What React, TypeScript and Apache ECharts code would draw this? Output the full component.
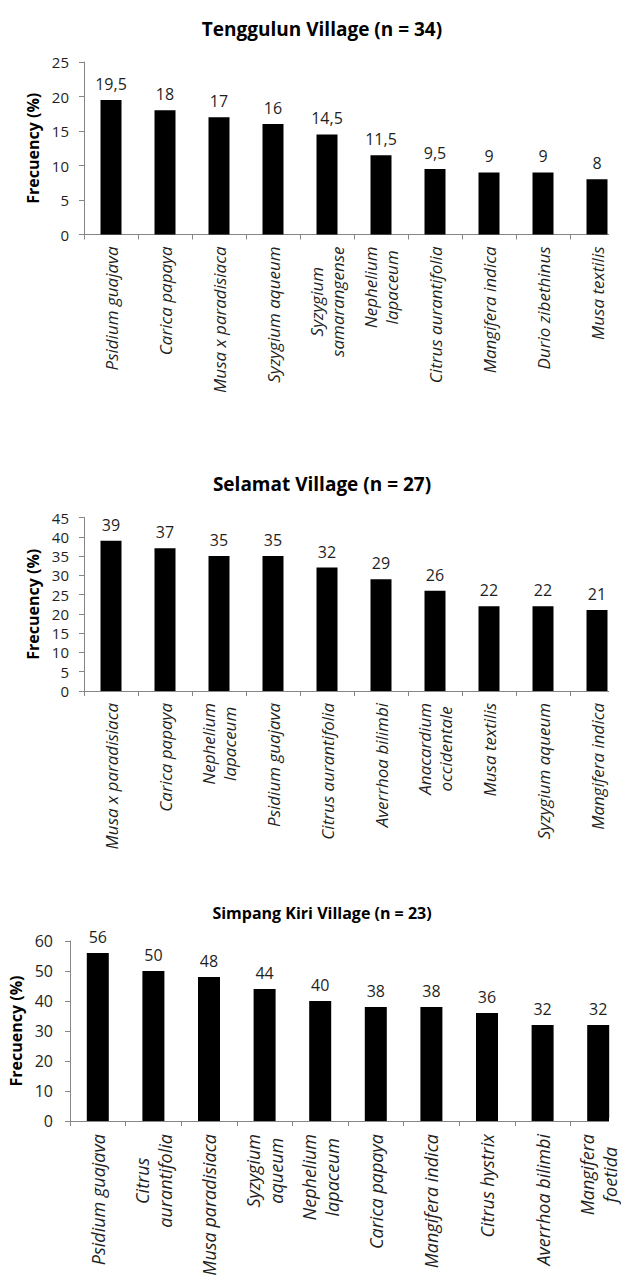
import React, { useEffect, useRef } from "react";
import * as echarts from "echarts";

const titles = ["Tenggulun Village (n = 34)", "Selamat Village (n = 27)", "Simpang Kiri Village (n = 23)"];

const cats1 = ["Psidium guajava", "Carica papaya", "Musa x paradisiaca", "Syzygium aqueum", "Syzygium\nsamarangense", "Nephelium\nlapaceum", "Citrus aurantifolia", "Mangifera indica", "Durio zibethinus", "Musa textilis"];
const vals1 = [19.5, 18, 17, 16, 14.5, 11.5, 9.5, 9, 9, 8];

const cats2 = ["Musa x paradisiaca", "Carica papaya", "Nephelium\nlapaceum", "Psidium guajava", "Citrus aurantifolia", "Averrhoa bilimbi", "Anacardium\noccidentale", "Musa textilis", "Syzygium aqueum", "Mangifera indica"];
const vals2 = [39, 37, 35, 35, 32, 29, 26, 22, 22, 21];

const cats3 = ["Psidium guajava", "Citrus\naurantifolia", "Musa paradisiaca", "Syzygium\naqueum", "Nephelium\nlapaceum", "Carica papaya", "Mangifera indica", "Citrus hystrix", "Averrhoa bilimbi", "Mangifera\nfoetida"];
const vals3 = [56, 50, 48, 44, 40, 38, 38, 36, 32, 32];

const yMax = [25, 45, 60];
const yStep = [5, 5, 10];
const yName = "Frecuency (%)";

const FONT = "'Open Sans', 'DejaVu Sans', sans-serif";
const AXIS_COLOR = "#868686";
const TEXT_COLOR = "#1f1f1f";

export default function App() {
  const ref = useRef<HTMLDivElement>(null);
  useEffect(() => {
    if (!ref.current) return;
    const chart = echarts.init(ref.current, undefined, { renderer: "svg" });
    const grids = [
      { left: 84, top: 62, width: 540, height: 172.5 },
      { left: 84, top: 517.5, width: 540, height: 173.5 },
      { left: 70, top: 941, width: 556, height: 180 },
    ];
    const cats = [cats1, cats2, cats3];
    const vals = [vals1, vals2, vals3];
    const xFont = [17, 17, 18];
    const xLine = [21, 21, 23];
    const xMargin = [12, 12, 13];
    const yFont = [15, 15, 16];
    const titleY = [29, 484, 913];
    const titleSize = [19, 19, 16];

    const titleTexts = titles.map((t, i) => ({
      type: "text",
      x: 322,
      y: titleY[i],
      style: {
        text: t,
        textAlign: "center",
        textVerticalAlign: "middle",
        font: `bold ${titleSize[i]}px ${FONT}`,
        fill: "#000000",
      },
    }));
    // the reference figure is cropped just right of the last bar
    const crops = grids.map((g) => ({
      type: "rect",
      z: 100,
      shape: { x: 609, y: g.top + g.height - 3, width: 20, height: 12 },
      style: { fill: "#ffffff" },
    }));

    const option: any = {
      animation: false,
      backgroundColor: "#ffffff",
      grid: grids.map((g) => ({ ...g, containLabel: false, outerBoundsMode: "none" })),
      graphic: [...titleTexts, ...crops],
      xAxis: cats.map((c, i) => ({
        type: "category",
        gridIndex: i,
        data: c,
        axisLine: { show: true, lineStyle: { color: AXIS_COLOR, width: 1 } },
        axisTick: { show: true, length: 5, lineStyle: { color: AXIS_COLOR } },
        splitLine: { show: false },
        axisLabel: {
          interval: 0,
          rotate: 90,
          margin: xMargin[i],
          hideOverlap: false,
          fontFamily: FONT,
          fontStyle: "italic",
          fontSize: xFont[i],
          color: TEXT_COLOR,
          formatter: (v: string) => v.split("\n").map((l) => `{c|${l}}`).join("\n"),
          rich: {
            c: {
              align: "center",
              fontFamily: FONT,
              fontStyle: "italic",
              fontSize: xFont[i],
              lineHeight: xLine[i],
              color: TEXT_COLOR,
            },
          },
        },
      })),
      yAxis: cats.map((_, i) => ({
        type: "value",
        gridIndex: i,
        min: 0,
        max: yMax[i],
        interval: yStep[i],
        name: yName,
        nameLocation: "middle",
        nameRotate: 90,
        nameGap: i === 2 ? 42 : 41,
        nameTextStyle: { fontFamily: FONT, fontWeight: "bold", fontSize: 16, color: "#000000" },
        axisLine: { show: true, lineStyle: { color: AXIS_COLOR, width: 1 } },
        axisTick: { show: true, length: 5, lineStyle: { color: AXIS_COLOR } },
        splitLine: { show: false },
        axisLabel: {
          margin: i === 2 ? 17 : 15,
          fontFamily: FONT,
          fontSize: yFont[i],
          color: TEXT_COLOR,
        },
      })),
      series: vals.map((v, i) => ({
        type: "bar",
        xAxisIndex: i,
        yAxisIndex: i,
        data: v,
        barWidth: i === 2 ? 22 : 21,
        itemStyle: { color: "#000000" },
        label: {
          show: true,
          position: "top",
          distance: 8,
          fontFamily: FONT,
          fontSize: 16,
          color: TEXT_COLOR,
          formatter: (p: any) => String(p.value).replace(".", ","),
        },
      })),
    };
    chart.setOption(option);
    return () => chart.dispose();
  }, []);
  return (
    <div
      ref={ref}
      style={{ position: "absolute", left: 0, top: 0, width: 621, height: 1278 }}
    />
  );
}
